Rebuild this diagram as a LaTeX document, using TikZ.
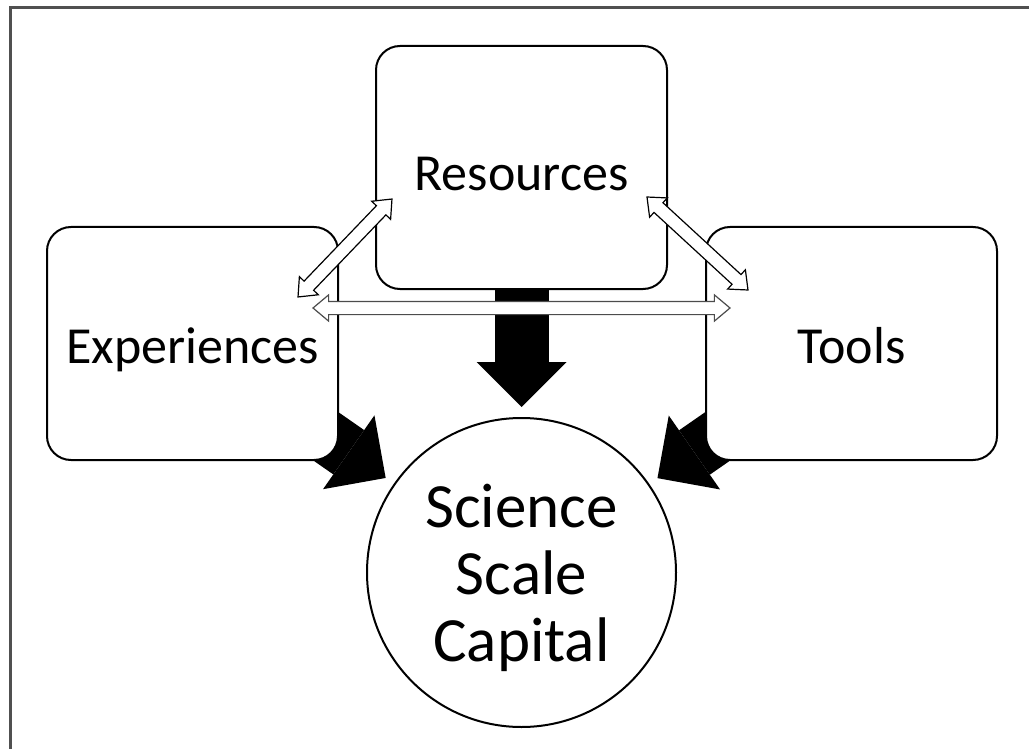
\documentclass[tikz,border=0pt]{standalone}
\usepackage{fontspec}
\setmainfont{Carlito}
\usepackage{tikz}
\usetikzlibrary{shapes.arrows,arrows.meta,calc}
\definecolor{framegray}{RGB}{80,80,80}
\pgfdeclarelayer{background}
\pgfsetlayers{background,main}

% white double arrow laid between two points
\newcommand{\hollowarrow}[4][]{%
  \path let \p1=(#3), \p2=(#4), \n1={atan2(\y2-\y1,\x2-\x1)}, \n2={veclen(\x2-\x1,\y2-\y1)} in
    node[dblarrow,minimum height=\n2,rotate=\n1,#1] (#2) at ($(#3)!0.5!(#4)$) {};}

\begin{document}
\begin{tikzpicture}[x=1pt,y=-1pt,
    box/.style={draw,line width=2pt,rounded corners=24pt,fill=white,minimum width=291pt,
      font=\fontsize{52}{62}\selectfont,text height=40pt,text depth=0pt},
    ball/.style={circle,draw,line width=2pt,fill=white,minimum size=309pt,align=center,
      font=\fontsize{63}{67}\selectfont,text depth=0pt},
    bigarrow/.style={line width=54pt,-{Triangle[width=90pt,length=45pt,line width=0pt]},shorten >=10pt},
    dblarrow/.style={double arrow,draw,fill=white,line width=1.2pt,inner sep=6pt,outer sep=0pt,
      double arrow head extend=6.5pt,double arrow tip angle=80},
    frame/.style={draw=framegray,line width=3pt}]
  \useasboundingbox (0,0) rectangle (1029,749);
  \draw[frame] (1029,8) -- (10,8) -- (10,749);

  \node[box,minimum height=243pt,text height=47pt] (res) at (521.5,167.5) {Resources};
  \node[box,minimum height=233pt] (exp) at (192.5,343.5) {Experiences};
  \node[box,minimum height=233pt] (tools) at (851.5,343.5) {Tools};
  \node[ball] (ssc) at (521.5,572.5) {Science\\Scale\\Capital};

  \begin{pgfonlayer}{background}
    \draw[bigarrow] (res.center) -- (ssc);
    \draw[bigarrow] (exp.center) -- (ssc);
    \draw[bigarrow] (tools.center) -- (ssc);
  \end{pgfonlayer}

  % links between the three boxes
  \coordinate (el) at (298,297);
  \coordinate (er) at (392,199);
  \coordinate (tl) at (647,197);
  \coordinate (tr) at (748,290);
  \coordinate (hl) at (313,308);
  \coordinate (hr) at (730,308);
  \hollowarrow{expres}{el}{er}
  \hollowarrow{restools}{tl}{tr}
  \hollowarrow[draw=black!70]{exptools}{hl}{hr}
\end{tikzpicture}
\end{document}
